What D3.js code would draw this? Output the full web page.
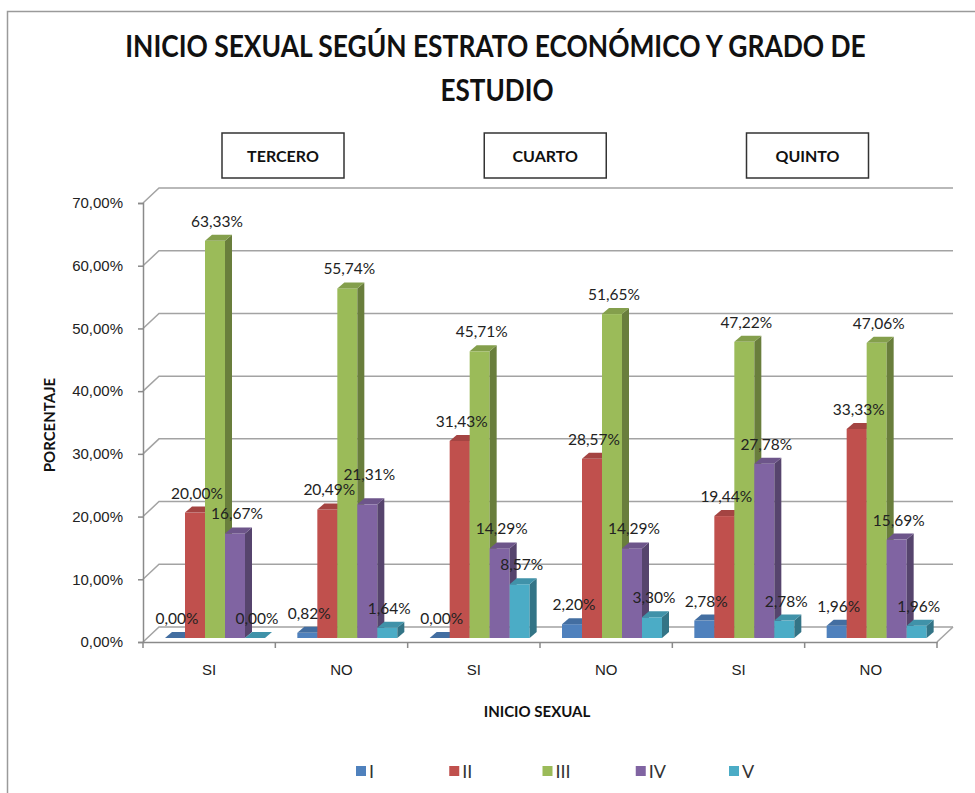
<!DOCTYPE html>
<html>
<head>
<meta charset="utf-8">
<script src="https://cdn.jsdelivr.net/npm/d3@7"></script>
<style>
  body { margin: 0; background: #fff; }
  svg { font-family: Lato, "Open Sans", sans-serif; }
</style>
</head>
<body>
<div id="chart"></div>
<script>
// data
const categories = ['SI', 'NO', 'SI', 'NO', 'SI', 'NO']
const grades = ['TERCERO', 'CUARTO', 'QUINTO']
const series = ['I', 'II', 'III', 'IV', 'V']
const valuesI = [0.00, 0.82, 0.00, 2.20, 2.78, 1.96]
const valuesII = [20.00, 20.49, 31.43, 28.57, 19.44, 33.33]
const valuesIII = [63.33, 55.74, 45.71, 51.65, 47.22, 47.06]
const valuesIV = [16.67, 21.31, 14.29, 14.29, 27.78, 15.69]
const valuesV = [0.00, 1.64, 8.57, 3.30, 2.78, 1.96]
const yTicks = [0, 10, 20, 30, 40, 50, 60, 70]

const colors = ['#4F81BD', '#C0504D', '#9BBB59', '#8064A2', '#4BACC6']
const allValues = [valuesI, valuesII, valuesIII, valuesIV, valuesV]

const width = 975, height = 793
// 3D depth of floor / walls and of each bar
const depthX = 16, depthY = 15
const barOffX = 4, barOffY = 4
const barDX = 7, barDY = 6

const locale = d3.formatLocale({ decimal: ',', thousands: '.', grouping: [3], currency: ['', '€'] })
const fmt = locale.format('.2f')

const svg = d3.select('#chart').append('svg')
  .attr('width', width)
  .attr('height', height)

/** squeeze a text horizontally so it takes the given width (Calibri-like narrow look)
 *  @param {selection} t  text selection, anchored at 0,0
 *  @param {number} w     wanted width in px
 */
function squeeze(t, cx, cy, w) {
  const len = t.node().getComputedTextLength()
  t.attr('transform', 'translate(' + cx + ',' + cy + ') scale(' + (w / len) + ',1)')
}

// outer chart border
svg.append('rect')
  .attr('x', 7.5).attr('y', 11.5)
  .attr('width', 1200).attr('height', 1200)
  .attr('fill', 'none').attr('stroke', '#9a9a9a').attr('stroke-width', 1.5)

// title
const title = svg.append('g').attr('font-weight', 'bold').attr('fill', '#111')
  .attr('font-size', 31).attr('text-anchor', 'middle')
title.append('text')
  .text('INICIO SEXUAL SEGÚN ESTRATO ECONÓMICO Y GRADO DE')
  .call(squeeze, 495.5, 57, 741)
title.append('text')
  .text('ESTUDIO')
  .call(squeeze, 497, 101, 113)

// scales
const x = d3.scaleBand()
  .domain(d3.range(categories.length))
  .range([143, 937])

const y = d3.scaleLinear()
  .domain([0, 70])
  .range([642, 203])

const inner = d3.scaleBand()
  .domain(series)
  .range([16 + 6 - barOffX, 16 + 6 - barOffX + 100])

// back wall gridlines + left wall diagonals
const grid = svg.append('g')
  .attr('stroke', '#a3a3a3').attr('stroke-width', 1.5).attr('fill', 'none')

grid.selectAll('path')
  .data(yTicks)
  .enter().append('path')
  .attr('d', function (d) {
    const yy = y(d)
    return 'M143,' + yy + 'L' + (143 + depthX) + ',' + (yy - depthY) +
      'L' + (x.range()[1] + depthX) + ',' + (yy - depthY)
  })

// floor right edge
grid.append('path')
  .attr('d', 'M' + x.range()[1] + ',' + y(0) + 'L' + (x.range()[1] + depthX) + ',' + (y(0) - depthY))

// y axis
const yAxis = d3.axisLeft(y)
  .tickValues(yTicks)
  .tickSize(5)
  .tickPadding(15)
  .tickFormat(function (d) { return fmt(d) + '%' })

svg.append('g')
  .attr('transform', 'translate(143,0)')
  .call(yAxis)
  .call(function (g) {
    g.selectAll('line, path').attr('stroke', '#8a8a8a').attr('stroke-width', 1.5)
    g.selectAll('text').attr('font-size', 15).attr('fill', '#222')
  })

// x axis
const xAxis = d3.axisBottom(x)
  .tickSize(0)
  .tickPadding(22)
  .tickFormat(function (i) { return categories[i] })

svg.append('g')
  .attr('transform', 'translate(0,' + y(0) + ')')
  .call(xAxis)
  .call(function (g) {
    g.select('.domain').attr('stroke', '#8a8a8a').attr('stroke-width', 1.5)
    g.selectAll('text').attr('font-size', 15).attr('fill', '#222')
  })

// category boundary ticks
svg.append('g')
  .selectAll('line')
  .data(d3.range(categories.length + 1))
  .enter().append('line')
  .attr('x1', function (i) { return i < categories.length ? x(i) : x.range()[1] })
  .attr('x2', function (i) { return i < categories.length ? x(i) : x.range()[1] })
  .attr('y1', y(0)).attr('y2', y(0) + 6)
  .attr('stroke', '#8a8a8a').attr('stroke-width', 1.5)

// 3D bars
const bars = []
categories.forEach(function (c, ci) {
  series.forEach(function (s, si) {
    bars.push({ ci: ci, si: si, value: allValues[si][ci] })
  })
})

const barW = inner.bandwidth()
const base = y(0) - barOffY

const barG = svg.append('g')
  .selectAll('g')
  .data(bars)
  .enter().append('g')

function barX(d) { return x(d.ci) + inner(series[d.si]) + barOffX }
function barTop(d) { return y(d.value) - barOffY }

// front face
barG.append('rect')
  .attr('x', barX)
  .attr('y', barTop)
  .attr('width', barW)
  .attr('height', function (d) { return base - barTop(d) })
  .attr('fill', function (d) { return colors[d.si] })

// side face
barG.append('path')
  .attr('d', function (d) {
    const x1 = barX(d) + barW, t = barTop(d)
    return 'M' + x1 + ',' + t + 'L' + (x1 + barDX) + ',' + (t - barDY) +
      'L' + (x1 + barDX) + ',' + (base - barDY) + 'L' + x1 + ',' + base + 'Z'
  })
  .attr('fill', function (d) { return d3.color(colors[d.si]).darker(1.1) })

// top face
barG.append('path')
  .attr('d', function (d) {
    const x0 = barX(d), t = barTop(d)
    return 'M' + x0 + ',' + t + 'L' + (x0 + barDX) + ',' + (t - barDY) +
      'L' + (x0 + barW + barDX) + ',' + (t - barDY) + 'L' + (x0 + barW) + ',' + t + 'Z'
  })
  .attr('fill', function (d) { return d3.color(colors[d.si]).darker(0.45) })

// value labels
const labels = svg.append('g')
  .selectAll('text')
  .data(bars)
  .enter().append('text')
  .attr('x', function (d) { return barX(d) + barW / 2 + 2 })
  .attr('y', function (d) { return barTop(d) - 14 })
  .attr('text-anchor', 'middle')
  .attr('font-size', 15.5)
  .attr('fill', '#222')
  .text(function (d) { return fmt(d.value) + '%' })

// push a label up when it collides with an earlier label of the same group
const placed = {}
labels.each(function (d) {
  const el = d3.select(this)
  const list = placed[d.ci] || (placed[d.ci] = [])
  list.forEach(function (a) {
    const b = el.node().getBBox()
    const hit = b.x < a.x + a.width && a.x < b.x + b.width &&
      b.y < a.y + a.height && a.y < b.y + b.height
    if (hit) el.attr('y', a.y + a.height - 4 - 14)
  })
  list.push(this.getBBox())
})

// grade boxes
const boxX = d3.scalePoint()
  .domain(grades)
  .range([283, 807.5])

const boxes = svg.append('g')
  .selectAll('g')
  .data(grades)
  .enter().append('g')
  .attr('transform', function (d) { return 'translate(' + (boxX(d) - 61) + ',133)' })

boxes.append('rect')
  .attr('width', 122).attr('height', 45)
  .attr('fill', '#fff').attr('stroke', '#333').attr('stroke-width', 1.5)

boxes.append('text')
  .attr('x', 61).attr('y', 29)
  .attr('text-anchor', 'middle')
  .attr('font-size', 16).attr('font-weight', 'bold').attr('fill', '#111')
  .text(function (d) { return d })

// axis titles
svg.append('text')
  .attr('transform', 'translate(55,425) rotate(-90)')
  .attr('text-anchor', 'middle')
  .attr('font-size', 15).attr('font-weight', 'bold').attr('fill', '#111')
  .text('PORCENTAJE')

svg.append('text')
  .attr('x', 537).attr('y', 717)
  .attr('text-anchor', 'middle')
  .attr('font-size', 15).attr('font-weight', 'bold').attr('fill', '#111')
  .text('INICIO SEXUAL')

// legend
const legendX = d3.scalePoint()
  .domain(series)
  .range([356, 729])

const legend = svg.append('g')
  .selectAll('g')
  .data(series)
  .enter().append('g')
  .attr('transform', function (d) { return 'translate(' + legendX(d) + ',766)' })

legend.append('rect')
  .attr('width', 10).attr('height', 10)
  .attr('fill', function (d, i) { return colors[i] })

legend.append('text')
  .attr('x', 13).attr('y', 12)
  .attr('font-size', 18).attr('fill', '#333')
  .text(function (d) { return d })
</script>
</body>
</html>
